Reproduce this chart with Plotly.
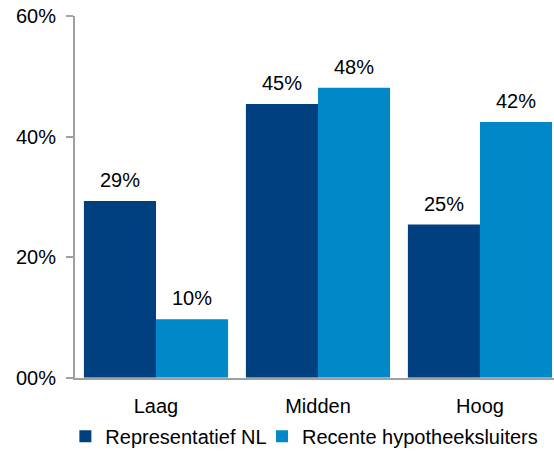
import plotly.graph_objects as go

# Income groups and share per group (percent)
categories = ["Laag", "Midden", "Hoog"]
representatief_nl = [29.3, 45.4, 25.4]
recente_sluiters = [9.7, 48.1, 42.4]
series_names = ["Representatief NL", "Recente hypotheeksluiters"]
y_tickvals = [0, 20, 40, 60]
y_ticktext = ["00%", "20%", "40%", "60%"]

DARK = "#00407f"
LIGHT = "#0088c8"
AXIS = "#a0a0a0"
FONT = "Liberation Sans, Arial, sans-serif"

fig = go.Figure()
fig.add_trace(go.Bar(x=categories, y=representatief_nl, name=series_names[0],
                     marker=dict(color=DARK, line=dict(width=0)), legend="legend"))
fig.add_trace(go.Bar(x=categories, y=recente_sluiters, name=series_names[1],
                     marker=dict(color=LIGHT, line=dict(width=0)), legend="legend2"))

# Value labels above each bar
bargap = 0.11
half = (1 - bargap) / 4
for i in range(len(categories)):
    for vals, off in ((representatief_nl, -half), (recente_sluiters, half)):
        fig.add_annotation(x=i + off, y=vals[i], xref="x", yref="y",
                           text=f"{vals[i]:.0f}%", showarrow=False,
                           yanchor="bottom", yshift=8,
                           font=dict(family=FONT, size=20, color="#000000"))

legend_common = dict(orientation="h", xref="container", yref="container",
                     xanchor="left", y=0.068, yanchor="middle",
                     bgcolor="rgba(0,0,0,0)",
                     font=dict(family=FONT, size=20, color="#000000"),
                     itemwidth=30)

fig.update_layout(
    width=554, height=468,
    margin=dict(l=75, r=0, t=16, b=87),
    paper_bgcolor="white", plot_bgcolor="white",
    barmode="group", bargap=bargap, bargroupgap=0,
    font=dict(family=FONT, size=20, color="#000000"),
    showlegend=True,
    legend=dict(x=0.118, **legend_common),
    legend2=dict(x=0.473, **legend_common),
    xaxis=dict(range=[-0.5, 2.457], showgrid=False, zeroline=False,
               showline=True, linecolor=AXIS, linewidth=2, ticks="",
               ticklabelstandoff=9, fixedrange=True),
    yaxis=dict(range=[0, 60], tickvals=y_tickvals, ticktext=y_ticktext,
               showgrid=False, zeroline=False, showline=True, linecolor=AXIS,
               linewidth=2, ticks="outside", ticklen=7, tickcolor=AXIS, tickwidth=2,
               ticklabelstandoff=6, fixedrange=True),
)

fig.write_html("out.html")
